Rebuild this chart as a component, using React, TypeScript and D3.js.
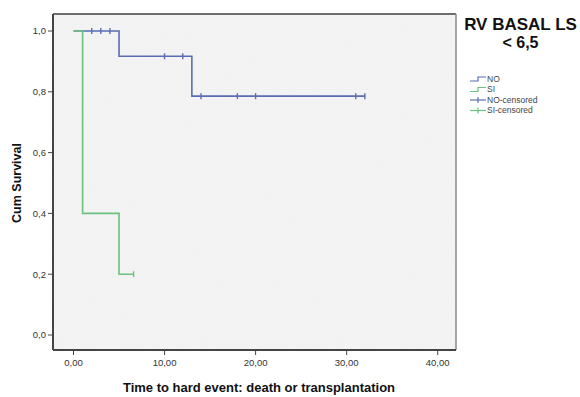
import React from "react";
import * as d3 from "d3";

// Kaplan-Meier steps: [time, survival] pairs where the curve changes
const noSteps: [number, number][] = [[0, 1.0], [5, 0.9167], [13, 0.7857]];
const noEnd = 32;
const noCensored = [2, 3, 4, 10, 12, 14, 18, 20, 31, 32];

const siSteps: [number, number][] = [[0, 1.0], [1, 0.4], [5, 0.2]];
const siEnd = 6.6;
const siCensored = [6.6];

const xTicks = [0, 10, 20, 30, 40];
const yTicks = [0, 0.2, 0.4, 0.6, 0.8, 1.0];

const legendItems = [
  { label: "NO", kind: "line", color: "#5a6db3" },
  { label: "SI", kind: "line", color: "#6cc27c" },
  { label: "NO-censored", kind: "cens", color: "#5a6db3" },
  { label: "SI-censored", kind: "cens", color: "#6cc27c" },
];

const fmt = (v: number, d: number) => v.toFixed(d).replace(".", ",");

export default function App() {
  const W = 580, H = 397;
  const frame = { left: 53, top: 14, right: 456, bottom: 350 };
  const x = d3.scaleLinear().domain([0, 40]).range([73.5, 437.7]);
  const y = d3.scaleLinear().domain([0, 1]).range([335, 31]);

  const stepPath = (steps: [number, number][], end: number) => {
    const pts: [number, number][] = steps.map(([t, s]) => [t, s]);
    pts.push([end, steps[steps.length - 1][1]]);
    const line = d3.line<[number, number]>()
      .x(d => x(d[0])).y(d => y(d[1]))
      .curve(d3.curveStepAfter);
    return line(pts) || "";
  };

  const survAt = (steps: [number, number][], t: number) => {
    let s = 1;
    for (const [tt, v] of steps) if (tt <= t) s = v;
    return s;
  };

  const blue = "#5a6db3";
  const green = "#6cc27c";
  const font = "Arial, 'Liberation Sans', sans-serif";

  return (
    <svg width={W} height={H} style={{ position: "absolute", left: 0, top: 0 }} fontFamily={font}>
      <defs>
        <filter id="grain" x="0" y="0" width="100%" height="100%">
          <feTurbulence type="fractalNoise" baseFrequency="0.9" numOctaves="2" seed="3" result="n" />
          <feColorMatrix type="matrix" in="n"
            values="0 0 0 0 0.6  0 0 0 0 0.6  0 0 0 0 0.6  0 0 0 0.07 0" />
        </filter>
      </defs>
      <rect x={0} y={0} width={W} height={H} fill="#ffffff" />
      {/* plot area */}
      <rect x={frame.left} y={frame.top} width={frame.right - frame.left} height={frame.bottom - frame.top} fill="#f4f4f4" />
      <rect x={frame.left} y={frame.top} width={frame.right - frame.left} height={frame.bottom - frame.top} filter="url(#grain)" />
      <line x1={frame.left} x2={frame.right} y1={frame.top} y2={frame.top} stroke="#6e6e6e" strokeWidth={2} />
      <line x1={frame.right} x2={frame.right} y1={frame.top} y2={frame.bottom} stroke="#8a8a8a" strokeWidth={1.5} />
      <line x1={frame.left} x2={frame.left} y1={frame.top} y2={frame.bottom} stroke="#444" strokeWidth={2} />
      <line x1={frame.left} x2={frame.right} y1={frame.bottom} y2={frame.bottom} stroke="#444" strokeWidth={2} />

      {/* y axis */}
      {yTicks.map(v => (
        <g key={v}>
          <line x1={frame.left - 5} x2={frame.left} y1={y(v)} y2={y(v)} stroke="#444" strokeWidth={1} />
          <text x={frame.left - 7} y={y(v)} dy="0.35em" textAnchor="end" fontSize={9.5} fill="#333">{fmt(v, 1)}</text>
        </g>
      ))}
      {/* x axis */}
      {xTicks.map(v => (
        <g key={v}>
          <line x1={x(v)} x2={x(v)} y1={frame.bottom} y2={frame.bottom + 5} stroke="#444" strokeWidth={1} />
          <text x={x(v)} y={frame.bottom + 16} textAnchor="middle" fontSize={9.5} fill="#333">{fmt(v, 2)}</text>
        </g>
      ))}

      <text transform={`translate(21,183) rotate(-90)`} textAnchor="middle" fontSize={12.5} fontWeight="bold" fill="#111">Cum Survival</text>
      <text x={259} y={392} textAnchor="middle" fontSize={13} fontWeight="bold" fill="#111">Time to hard event: death or transplantation</text>

      {/* curves */}
      <path d={stepPath(noSteps, noEnd)} fill="none" stroke={blue} strokeWidth={1.6} />
      <path d={stepPath(siSteps, siEnd)} fill="none" stroke={green} strokeWidth={1.6} />
      {noCensored.map((t, i) => (
        <line key={"n" + i} x1={x(t)} x2={x(t)} y1={y(survAt(noSteps, t)) - 3} y2={y(survAt(noSteps, t)) + 3} stroke={blue} strokeWidth={1.4} />
      ))}
      {siCensored.map((t, i) => (
        <line key={"s" + i} x1={x(t)} x2={x(t)} y1={y(survAt(siSteps, t)) - 3} y2={y(survAt(siSteps, t)) + 3} stroke={green} strokeWidth={1.4} />
      ))}

      {/* legend */}
      <text x={520.5} y={30} textAnchor="middle" fontSize={17} fontWeight="bold" fill="#111">RV BASAL LS</text>
      <text x={520.5} y={48} textAnchor="middle" fontSize={16} fontWeight="bold" fill="#111">&lt; 6,5</text>
      {legendItems.map((it, i) => {
        const ly = 79 + i * 10.5;
        return (
          <g key={it.label}>
            {it.kind === "line" ? (
              <path d={`M470,${ly + 2}H478V${ly - 2}H486`} fill="none" stroke={it.color} strokeWidth={1.2} />
            ) : (
              <g>
                <line x1={470} x2={486} y1={ly} y2={ly} stroke={it.color} strokeWidth={1.2} />
                <line x1={478} x2={478} y1={ly - 3} y2={ly + 3} stroke={it.color} strokeWidth={1.2} />
              </g>
            )}
            <text x={487} y={ly} dy="0.35em" fontSize={8.5} fill="#444">{it.label}</text>
          </g>
        );
      })}
    </svg>
  );
}
